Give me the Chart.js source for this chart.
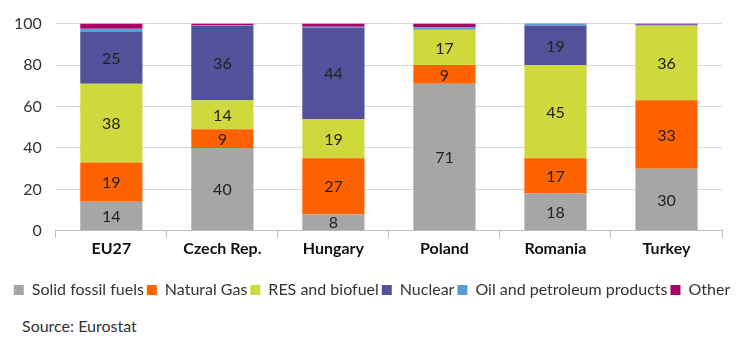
<!DOCTYPE html>
<html>
<head>
<meta charset="utf-8">
<script src="https://cdn.jsdelivr.net/npm/chart.js@4"></script>
<style>
  html, body { margin: 0; padding: 0; background: #fff; }
  #wrap { position: relative; width: 744px; height: 308px; }
  #source { font-family: Lato, sans-serif; font-size: 16px; color: #333; margin: 8px 0 0 22px; }
</style>
</head>
<body>
<div id="wrap"><canvas id="energyChart"></canvas></div>
<div id="source">Source: Eurostat</div>
<script>
// Catégories et séries (en %)
const countries = ['EU27', 'Czech Rep.', 'Hungary', 'Poland', 'Romania', 'Turkey'];
const solidFossil = [14, 40, 8, 71, 18, 30];
const naturalGas = [19, 9, 27, 9, 17, 33];
const resBiofuel = [38, 14, 19, 17, 45, 36];
const nuclear = [25, 36, 44, 0, 19, 0];
const oilPetroleum = [1.5, 0.3, 0.5, 1.2, 0.8, 0.4];
const other = [2.5, 0.7, 1.5, 1.8, 0.2, 0.6];
const yTicks = [0, 20, 40, 60, 80, 100];

// Plugin maison pour écrire les valeurs au centre des segments
const segmentLabels = {
    id: 'segmentLabels',
    afterDatasetsDraw(chart) {
        const ctx = chart.ctx;
        ctx.save();
        ctx.font = '16px Lato, sans-serif';
        ctx.fillStyle = '#222';
        ctx.textAlign = 'center';
        ctx.textBaseline = 'middle';
        chart.data.datasets.forEach((ds, i) => {
            if (i > 3) return;
            const meta = chart.getDatasetMeta(i);
            meta.data.forEach((bar, j) => {
                const v = ds.data[j];
                if (v < 5) return;
                ctx.fillText(String(v), bar.x, (bar.y + bar.base) / 2 + 1);
            });
        });
        ctx.restore();
    }
};

const ctx = document.getElementById('energyChart').getContext('2d');
new Chart(ctx, {
    type: 'bar',
    data: {
        labels: countries,
        datasets: [
            { label: 'Solid fossil fuels', data: solidFossil, backgroundColor: '#a6a6a6' },
            { label: 'Natural Gas', data: naturalGas, backgroundColor: '#ff6200' },
            { label: 'RES and biofuel', data: resBiofuel, backgroundColor: '#d0d93c' },
            { label: 'Nuclear', data: nuclear, backgroundColor: '#525199' },
            { label: 'Oil and petroleum products', data: oilPetroleum, backgroundColor: '#5b9bd5' },
            { label: 'Other', data: other, backgroundColor: '#ab0066' }
        ]
    },
    options: {
        responsive: true,
        maintainAspectRatio: false,
        animation: false,
        datasets: { bar: { categoryPercentage: 1, barPercentage: 0.56 } },
        layout: { padding: { left: 0, right: 0, top: 12, bottom: 0 } },
        plugins: {
            tooltip: { enabled: false },
            legend: {
                position: 'bottom',
                labels: {
                    boxWidth: 10,
                    boxHeight: 10,
                    padding: 3,
                    color: '#333',
                    font: { family: 'Lato, sans-serif', size: 16 }
                }
            }
        },
        scales: {
            x: {
                stacked: true,
                grid: { display: true, drawOnChartArea: false, drawTicks: true, tickLength: 7, color: '#bfbfbf' },
                border: { color: '#bfbfbf' },
                ticks: { color: '#111', font: { family: 'Lato, sans-serif', size: 16, weight: 'bold' }, padding: 1 },
                afterFit: s => { s.height += 20; }
            },
            y: {
                stacked: true,
                min: 0,
                max: 100,
                afterBuildTicks: axis => { axis.ticks = yTicks.map(v => ({ value: v })); },
                grid: { color: '#d9d9d9', drawTicks: false },
                border: { display: false },
                ticks: { color: '#333', font: { family: 'Lato, sans-serif', size: 16 }, padding: 14 }
            },
            // axe vide à droite pour laisser une marge sans décaler la légende
            yRight: {
                position: 'right',
                display: true,
                grid: { display: false },
                border: { display: false },
                ticks: { display: false },
                afterFit: s => { s.width = 22; }
            }
        }
    },
    plugins: [segmentLabels]
});
</script>
</body>
</html>
